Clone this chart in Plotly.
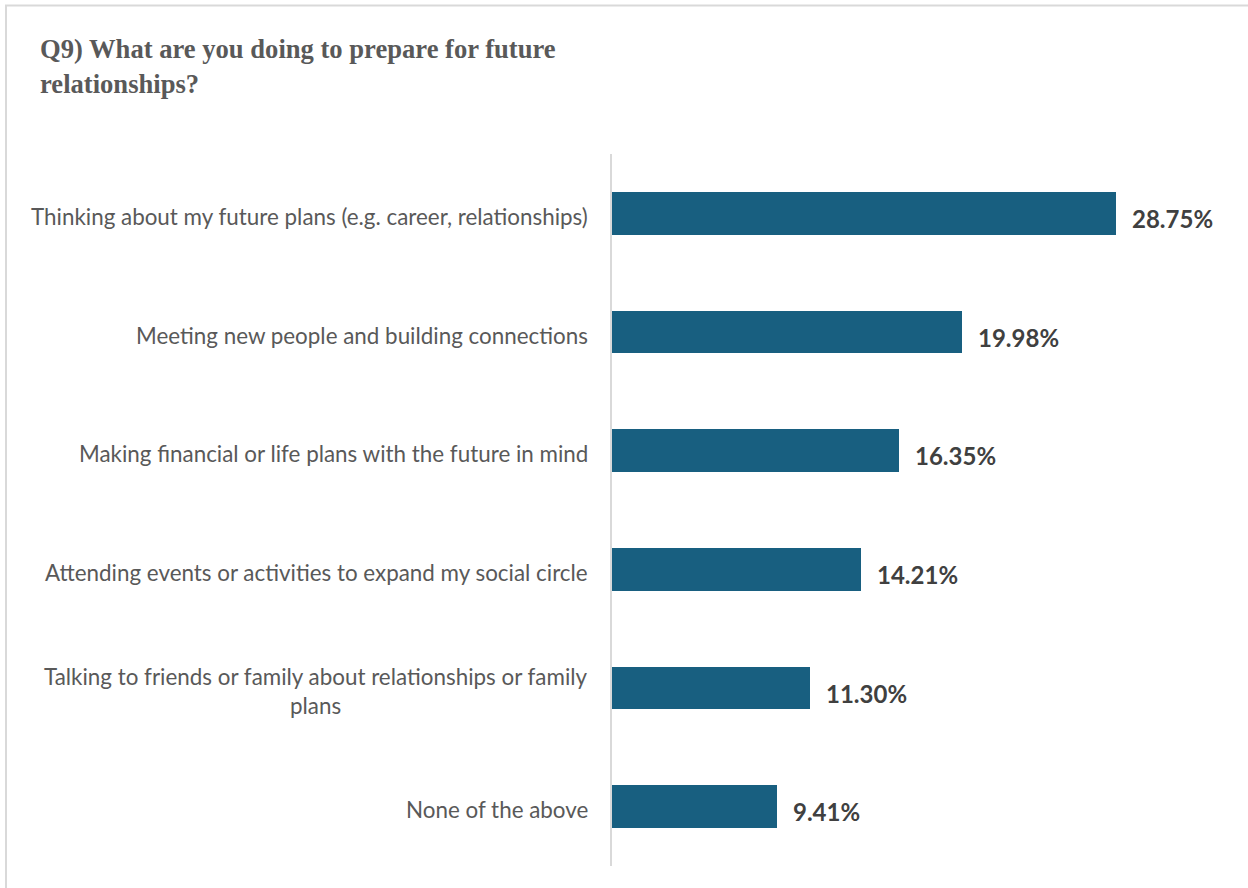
import plotly.graph_objects as go

# Survey responses, top to bottom
categories = [
    "Thinking about my future plans (e.g. career, relationships)",
    "Meeting new people and building connections",
    "Making financial or life plans with the future in mind",
    "Attending events or activities to expand my social circle",
    "Talking to friends or family about relationships or family<br>plans",
    "None of the above",
]
values = [28.75, 19.98, 16.35, 14.21, 11.30, 9.41]
value_labels = ["28.75%", "19.98%", "16.35%", "14.21%", "11.30%", "9.41%"]

title_text = "Q9) What are you doing to prepare for future<br>relationships?"

W, H = 1248, 888
M_L, M_R, M_T, M_B = 612, 12, 154, 22

BAR_COLOR = "#185f80"
LABEL_GRAY = "#595959"
VALUE_GRAY = "#404040"
BORDER_GRAY = "#d9d9d9"
FONT = "Lato, 'Open Sans', sans-serif"

fig = go.Figure(
    go.Bar(
        x=values,
        y=categories,
        orientation="h",
        marker=dict(color=BAR_COLOR, line=dict(width=0)),
        width=0.36,
        hoverinfo="skip",
    )
)

annotations = []
for cat, v, lab in zip(categories, values, value_labels):
    # value label to the right of each bar
    annotations.append(dict(
        x=v, y=cat, xref="x", yref="y", text=f"<b>{lab}</b>",
        showarrow=False, xanchor="left", yanchor="middle",
        xshift=14, yshift=-5,
        font=dict(family=FONT, size=24, color=VALUE_GRAY),
    ))
    # category label, centred lines, right-aligned block left of the axis
    annotations.append(dict(
        x=0, y=cat, xref="paper", yref="y", text=cat,
        showarrow=False, xanchor="right", yanchor="middle", align="center",
        xshift=-22, yshift=-3,
        font=dict(family=FONT, size=22.4, color=LABEL_GRAY),
    ))

plot_w = W - M_L - M_R
plot_h = H - M_T - M_B

def px_to_paper_x(px):
    return (px - M_L) / plot_w

def px_to_paper_y(py):
    return (H - M_B - py) / plot_h

fig.update_layout(
    width=W, height=H,
    margin=dict(l=M_L, r=M_R, t=M_T, b=M_B, pad=0),
    paper_bgcolor="white",
    plot_bgcolor="white",
    showlegend=False,
    bargap=0,
    title=dict(
        text=f"<b>{title_text}</b>",
        x=40 / W, xref="container", xanchor="left",
        y=1 - 58 / H, yref="container", yanchor="top",
        font=dict(family="'Liberation Serif', 'Times New Roman', serif", size=26.6, color=LABEL_GRAY),
    ),
    xaxis=dict(
        range=[0, plot_w / (504 / 28.75)],
        showgrid=False, zeroline=False, showticklabels=False, showline=False, ticks="",
        fixedrange=True,
    ),
    yaxis=dict(
        autorange="reversed",
        showgrid=False, zeroline=False, showticklabels=False, ticks="",
        showline=True, linecolor=BORDER_GRAY, linewidth=1.5,
        fixedrange=True,
    ),
    annotations=annotations,
    shapes=[dict(
        type="rect", xref="paper", yref="paper",
        x0=px_to_paper_x(6), x1=px_to_paper_x(W + 20),
        y0=px_to_paper_y(H + 20), y1=px_to_paper_y(5.5),
        line=dict(color=BORDER_GRAY, width=2), fillcolor="rgba(0,0,0,0)",
        layer="below",
    )],
)

fig.write_html("out.html")
